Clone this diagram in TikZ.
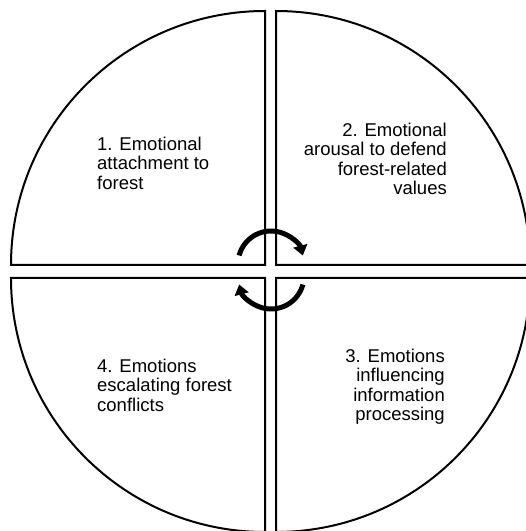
\documentclass[tikz,border=0pt]{standalone}
\usepackage{fontspec}
\setmainfont{Liberation Sans}
\usetikzlibrary{arrows.meta,positioning}

\begin{document}
\begin{tikzpicture}[x=1pt, y=1pt,
    quad/.style={draw, line width=2pt},
    lbl/.style={inner sep=0pt, font=\fontsize{18.5}{19.3}\selectfont},
    arr/.style={-{Triangle[length=10pt, width=14pt]}, line width=5pt}
]
\useasboundingbox (0,0) rectangle (526,531);
\clip (0,0) rectangle (526,531);
% four quarters of the circle
\draw[quad] (265,266) -- (265,520) arc[start angle=90, end angle=180, radius=254] -- cycle;
\draw[quad] (276,266) -- (530,266) arc[start angle=0, end angle=90, radius=254] -- cycle;
\draw[quad] (265,253) -- (11,253) arc[start angle=180, end angle=270, radius=254] -- cycle;
\draw[quad] (276,253) -- (276,-1) arc[start angle=270, end angle=360, radius=254] -- cycle;

\node[lbl, anchor=north west, align=left] (attach) at (97,394) {1. Emotional\\attachment to\\forest};
\node[lbl, anchor=north east, align=right] (arousal) at (447,408) {2. Emotional\\arousal to defend\\forest-related\\values};
\node[lbl, anchor=north east, align=right] (inform) at (445,182) {3. Emotions\\influencing\\information\\processing};
\node[lbl, anchor=north west, align=left] (escal) at (97,172) {4. Emotions\\escalating forest\\conflicts};

% cycle arrows in the middle
\draw[arr] (271,267) ++(165:33) arc[start angle=165, end angle=15, radius=33];
\draw[arr] (271,255) ++(-15:33) arc[start angle=-15, end angle=-165, radius=33];
\end{tikzpicture}
\end{document}
